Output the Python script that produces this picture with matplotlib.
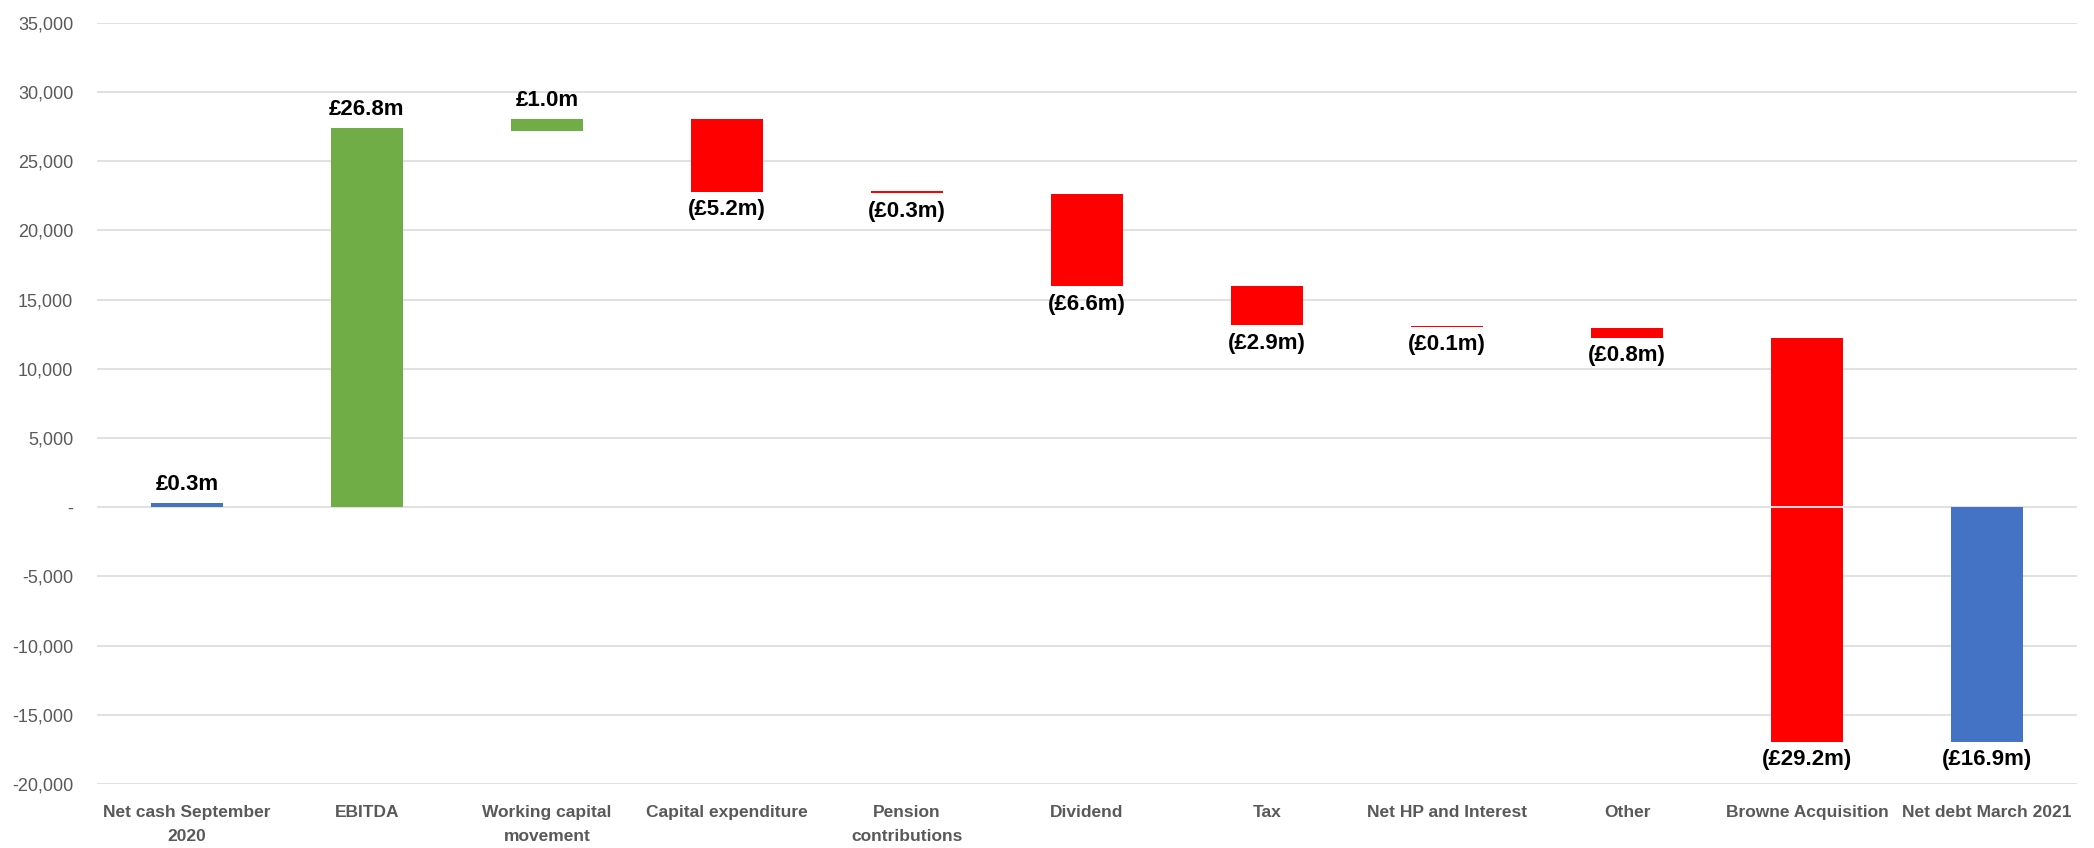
import matplotlib
matplotlib.use("Agg")
import matplotlib.pyplot as plt
from matplotlib.ticker import FuncFormatter

plt.rcParams["font.family"] = ["Liberation Sans", "DejaVu Sans"]

# Cash bridge, values in £k (bar extents)
categories = [
    "Net cash September\n2020", "EBITDA", "Working capital\nmovement",
    "Capital expenditure", "Pension\ncontributions", "Dividend", "Tax",
    "Net HP and Interest", "Other", "Browne Acquisition", "Net debt March 2021",
]
movement_m = [0.3, 26.8, 1.0, -5.2, -0.3, -6.6, -2.9, -0.1, -0.8, -29.2, -16.9]
bar_start = [0, 0, 27150, 28050, 22820, 22640, 15950, 13100, 12970, 12220, 0]
bar_end = [300, 27400, 28050, 22800, 22680, 15950, 13130, 13030, 12250, -16950, -16950]
bar_kind = ["total", "up", "up", "down", "down", "down", "down", "down", "down", "down", "total"]

COLORS = {"total": "#4472C4", "up": "#70AD47", "down": "#FF0000"}
GREY = "#595959"
WIDTH = 0.4

fig = plt.figure(figsize=(20.94, 8.48), dpi=100)
ax = fig.add_axes([0.0463, 0.0755, 0.9456, 0.8977])

for i, (s, e, kind) in enumerate(zip(bar_start, bar_end, bar_kind)):
    lo, hi = min(s, e), max(s, e)
    ax.bar(i, hi - lo, bottom=lo, width=WIDTH, color=COLORS[kind], zorder=2)
    if lo < 0 < hi:
        # Excel splits the bar where it crosses the axis
        ax.plot([i - WIDTH / 2, i + WIDTH / 2], [0, 0], color="white", lw=1.2, zorder=3)

for i, m in enumerate(movement_m):
    if m > 0:
        txt, y, dy = f"£{m:.1f}m", max(bar_start[i], bar_end[i]), 13
    else:
        txt, y, dy = f"(£{abs(m):.1f}m)", min(bar_start[i], bar_end[i]), -13
    ax.annotate(txt, (i, y), xytext=(0, dy), textcoords="offset points",
                ha="center", va="center", fontsize=16, fontweight="bold", color="black")

ax.set_xlim(-0.5, len(categories) - 0.5)
ax.set_ylim(-20000, 35000)
ax.set_yticks(range(-20000, 35001, 5000))
ax.yaxis.set_major_formatter(FuncFormatter(lambda v, _: "-" if v == 0 else f"{v:,.0f}"))
ax.set_xticks(range(len(categories)))
ax.set_xticklabels(categories, fontsize=12.5, fontweight="bold", color=GREY, linespacing=1.75)
ax.tick_params(axis="y", length=0, labelsize=13, labelcolor=GREY, pad=17)
ax.tick_params(axis="x", length=0, pad=15)

ax.grid(axis="y", color="#D9D9D9", lw=1.1, zorder=0)
ax.set_axisbelow(True)
for sp in ax.spines.values():
    sp.set_visible(False)

fig.savefig("out.png", dpi=100)
